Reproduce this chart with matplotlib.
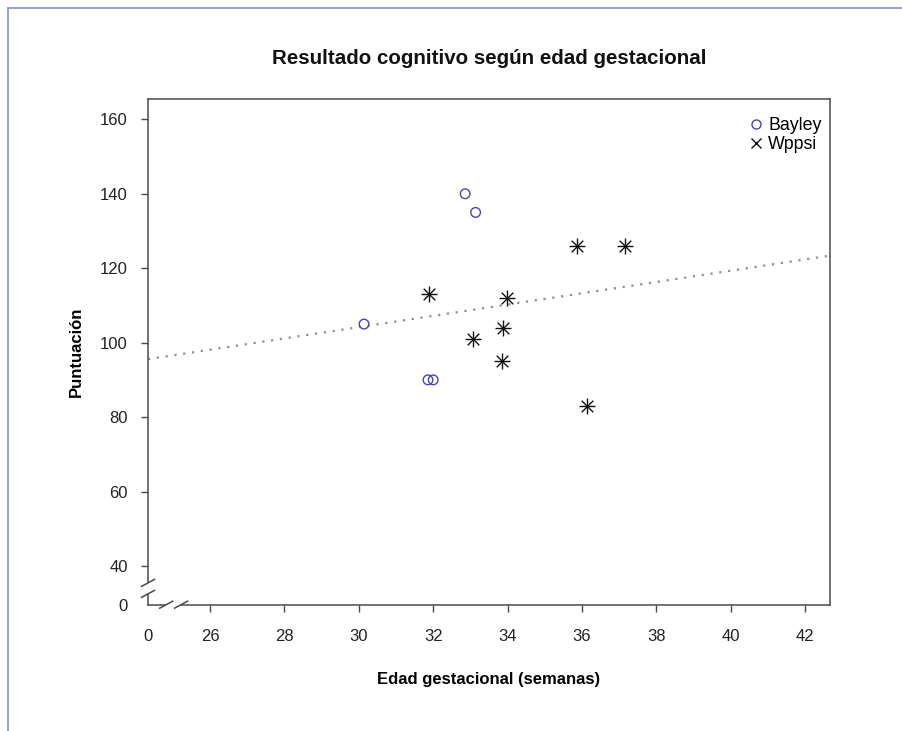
import numpy as np
import matplotlib.pyplot as plt
from matplotlib.lines import Line2D
from matplotlib.transforms import IdentityTransform

plt.rcParams['font.family'] = ['Liberation Sans', 'DejaVu Sans']

# gestational age (weeks) and score for each test
bayley_ga = [30.14, 31.86, 32.0, 32.86, 33.14]
bayley_score = [105, 90, 90, 140, 135]
wppsi_ga = [31.9, 33.08, 33.84, 33.89, 33.98, 35.87, 36.14, 37.16]
wppsi_score = [113, 101, 95, 104, 112, 126, 83, 126]

# linear fit over all children: intercept, slope
fit_coef = [58.7, 1.516]

x_ticks = [26, 28, 30, 32, 34, 36, 38, 40, 42]
y_ticks = [40, 60, 80, 100, 120, 140, 160]
x_lim = (24.33, 42.67)
y_lim = (29.6, 165.4)
x_break = (24.82, 25.22)
y_break = (32.5, 35.45)

axis_col = '#4a4a4a'
blue = '#4646b4'

fig = plt.figure(figsize=(9.03, 7.31), dpi=100)
ax = fig.add_axes([0.1639, 0.1728, 0.7552, 0.6914])

ax.scatter(bayley_ga, bayley_score, marker='o', s=48, facecolors='none',
           edgecolors=blue, linewidths=1.0, zorder=3)
ax.scatter(wppsi_ga, wppsi_score, marker='+', s=130, c='#111111', linewidths=1.0, zorder=3)
ax.scatter(wppsi_ga, wppsi_score, marker='x', s=70, c='#111111', linewidths=1.0, zorder=3)

xx = np.array(x_lim)
ax.plot(xx, fit_coef[0] + fit_coef[1] * xx, color='#9c8888', lw=1.6,
        linestyle=(0, (1, 3)), zorder=2)

ax.set_xlim(*x_lim)
ax.set_ylim(*y_lim)
ax.set_xticks([x_lim[0]] + x_ticks)
ax.set_xticklabels(['0'] + [str(t) for t in x_ticks])
ax.set_yticks([y_lim[0]] + y_ticks)
ax.set_yticklabels(['0'] + [str(t) for t in y_ticks])
ax.xaxis.get_major_ticks()[0].tick1line.set_visible(False)
ax.yaxis.get_major_ticks()[0].tick1line.set_visible(False)
ax.tick_params(direction='out', length=5, width=1.0, color=axis_col,
               labelsize=12, labelcolor='#222222')
ax.tick_params(axis='x', pad=12.5)
ax.tick_params(axis='y', pad=9.5)
for sp in ax.spines.values():
    sp.set_color(axis_col)
    sp.set_linewidth(1.1)

fig.text(0.5 * (0.1639 + 0.9191), 1 - 58 / 731, 'Resultado cognitivo según edad gestacional',
         ha='center', va='center', fontsize=14.8, fontweight='bold', color='#111111')
ax.set_xlabel('Edad gestacional (semanas)', fontsize=12, fontweight='bold', va='center')
ax.xaxis.set_label_coords(0.5, -0.149)
ax.set_ylabel('Puntuación', fontsize=12, fontweight='bold', va='center')
ax.yaxis.set_label_coords(-0.1056, 0.5)

handles = [
    Line2D([], [], marker='o', ls='none', mfc='none', mec=blue, ms=6.5, mew=1.0),
    Line2D([], [], marker='x', ls='none', color='#111111', ms=7, mew=1.0),
]
ax.legend(handles, ['Bayley', 'Wppsi'], loc='upper right', frameon=False,
          fontsize=12.8, handlelength=0.8, handletextpad=0.3, labelspacing=0.12,
          borderaxespad=0.3, bbox_to_anchor=(1.006, 0.99))

# axis breaks: white gap plus two slashes on each axis
def slash(px, py):
    fig.add_artist(Line2D([px - 6.5, px + 6.5], [py - 3.5, py + 3.5],
                          transform=IdentityTransform(), color=axis_col, lw=1.1))

def gap(p0, p1):
    fig.add_artist(Line2D([p0[0], p1[0]], [p0[1], p1[1]], transform=IdentityTransform(),
                          color='white', lw=3, solid_capstyle='butt'))

td = ax.transData
y0 = td.transform((x_lim[0], y_break[0]))
y1 = td.transform((x_lim[0], y_break[1]))
gap(y0, y1)
slash(*y0)
slash(*y1)
x0 = td.transform((x_break[0], y_lim[0]))
x1 = td.transform((x_break[1], y_lim[0]))
gap(x0, x1)
slash(*x0)
slash(*x1)

# page frame at left and top
frame_col = '#8096bf'
fig.add_artist(Line2D([8 / 903, 8 / 903], [0, 1 - 8 / 731], color=frame_col, lw=1.2,
                      transform=fig.transFigure))
fig.add_artist(Line2D([8 / 903, 1], [1 - 8 / 731, 1 - 8 / 731], color=frame_col, lw=1.2,
                      transform=fig.transFigure))

fig.savefig('out.png', dpi=100)
